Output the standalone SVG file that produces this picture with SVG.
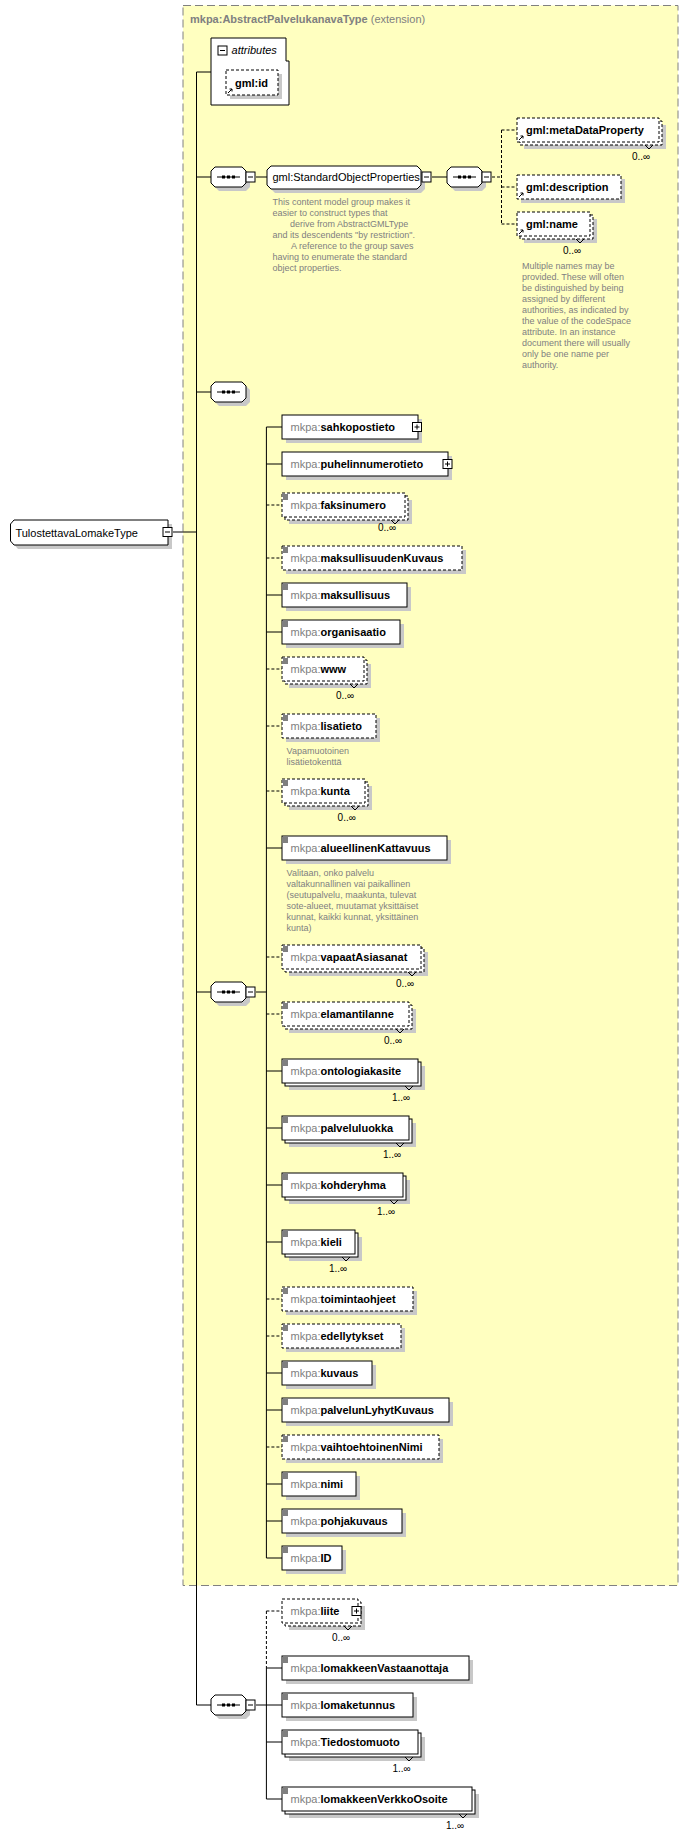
<svg xmlns="http://www.w3.org/2000/svg" width="679" height="1837" viewBox="0 0 679 1837">
<style>
text{font-family:"Liberation Sans",Arial,sans-serif;font-size:11px}
.sh{fill:#c8c8c8}
.box{fill:#fff;stroke:#000;stroke-width:1}
.dbox{fill:#fff;stroke:#000;stroke-width:1;stroke-dasharray:3,2}
.ln{stroke:#000;fill:none}
.dl{stroke:#000;fill:none;stroke-dasharray:3,2}
.ic{stroke:#000;stroke-width:1;fill:none}
.p{fill:#808080}
.n{fill:#000;font-weight:bold}
.ann{fill:#808080;font-size:9px}
.occ{font-size:10px;fill:#000}
.dot{fill:#000}
</style>
<rect x="183" y="5.5" width="495" height="1580" fill="#ffffc0" stroke="#808080" stroke-dasharray="8,4"/>
<text x="190" y="23"><tspan class="p" font-weight="bold">mkpa:AbstractPalvelukanavaType</tspan><tspan class="p"> (extension)</tspan></text>

<g id="connectors">
<path class="ln" d="M173 532H196.5M196.5 72V1705M196.5 72H211M196.5 177H211M196.5 392H211M196.5 992H211M196.5 1705H211"/>
<path class="ln" d="M256 177H267M432 177H447"/>
<path class="dl" d="M492 177H501.5M501.5 130V224M501.5 130H517M501.5 187H517M501.5 224H517"/>
<path class="ln" d="M256 992H266.4M266.4 427V1558"/>
<path class="ln" d="M266.4 427H282M266.4 464H282M266.4 595H282M266.4 632H282M266.4 848H282M266.4 1071H282M266.4 1128H282M266.4 1185H282M266.4 1242H282M266.4 1373H282M266.4 1410H282M266.4 1484H282M266.4 1521H282M266.4 1558H282"/>
<path class="dl" d="M266.4 505H282M266.4 558H282M266.4 669H282M266.4 726H282M266.4 791H282M266.4 957H282M266.4 1014H282M266.4 1299H282M266.4 1336H282M266.4 1447H282"/>
<path class="ln" d="M256 1705H266.4M266.4 1668V1799M266.4 1668H282M266.4 1705H282M266.4 1742H282M266.4 1799H282"/>
<path class="dl" d="M266.4 1611V1668M266.4 1611H282"/>
</g>

<g id="root">
<path class="sh" d="M18 524H172V549H18L14.5 545V528Z"/>
<path class="box" d="M14 520H168V545H14L10.5 541V524Z"/>
<text x="15.4" y="536.5" font-size="12px">TulostettavaLomakeType</text>
<rect class="box" x="163" y="527.5" width="9" height="9"/><path class="ln" d="M165 532H170"/>
</g>

<g id="attributes">
<path class="box" d="M211 38H286V61H289V105H211Z"/>
<rect class="box" x="218" y="46" width="9" height="9"/><path class="ln" d="M220 50.5H225"/>
<text x="231.6" y="54" font-style="italic">attributes</text>
<g id="gml-id">
<rect class="sh" x="230" y="74" width="52" height="25"/>
<rect class="dbox" x="226" y="70" width="52" height="25"/>
<path class="ic" d="M228 93l4-4M229.5 89h2.5v2.5"/>
<text x="235" y="87" class="n">gml:id</text>
</g>
</g>

<g id="seq1">
<path class="sh" d="M219 171h27l4 4v12l-4 4h-27l-4-4v-12z"/>
<path class="box" d="M215 167h27l4 4v12l-4 4h-27l-4-4v-12z"/>
<path class="ln" d="M217 177H240"/><rect class="dot" x="222" y="175.5" width="3" height="3"/><rect class="dot" x="227" y="175.5" width="3" height="3"/><rect class="dot" x="232" y="175.5" width="3" height="3"/>
<rect class="box" x="246" y="172" width="9" height="10"/><path class="ln" d="M248 177H253"/>
</g>

<g id="sop">
<path class="sh" d="M275 170h146l4 4v15l-4 4h-146l-4-4v-15z"/>
<path class="box" d="M271 166h146l4 4v15l-4 4h-146l-4-4v-15z"/>
<text x="272.5" y="181" font-size="10.5px">gml:StandardObjectProperties</text>
<rect class="box" x="422" y="172" width="9" height="10"/><path class="ln" d="M424 177H429"/>
<text class="ann"><tspan x="272.5" y="205">This content model group makes it</tspan><tspan x="272.5" y="216">easier to construct types that</tspan><tspan x="290" y="227">derive from AbstractGMLType</tspan><tspan x="272.5" y="238">and its descendents "by restriction".</tspan><tspan x="291" y="249">A reference to the group saves</tspan><tspan x="272.5" y="260">having to enumerate the standard</tspan><tspan x="272.5" y="271">object properties.</tspan></text>
</g>

<g id="seq2">
<path class="sh" d="M455 171h27l4 4v12l-4 4h-27l-4-4v-12z"/>
<path class="box" d="M451 167h27l4 4v12l-4 4h-27l-4-4v-12z"/>
<path class="ln" d="M453 177H476"/><rect class="dot" x="458" y="175.5" width="3" height="3"/><rect class="dot" x="463" y="175.5" width="3" height="3"/><rect class="dot" x="468" y="175.5" width="3" height="3"/>
<rect class="box" x="482" y="172" width="9" height="10"/><path class="ln" d="M484 177H489"/>
</g>

<g id="gml-metaDataProperty">
<rect class="sh" x="524" y="125" width="142" height="24"/>
<rect class="dbox" x="520" y="121" width="142" height="24"/>
<rect class="dbox" x="517" y="118" width="142" height="24"/>
<path class="ic" d="M519 140l4-4M520.5 136h2.5v2.5M645 145l4 4l4-4"/>
<text x="526" y="134" class="n">gml:metaDataProperty</text>
<text x="632" y="160" class="occ">0..∞</text>
</g>
<g id="gml-description">
<rect class="sh" x="521" y="179" width="104" height="24"/>
<rect class="dbox" x="517" y="175" width="104" height="24"/>
<path class="ic" d="M519 197l4-4M520.5 193h2.5v2.5"/>
<text x="526" y="191" class="n">gml:description</text>
</g>
<g id="gml-name">
<rect class="sh" x="524" y="219" width="73" height="24"/>
<rect class="dbox" x="520" y="215" width="73" height="24"/>
<rect class="dbox" x="517" y="212" width="73" height="24"/>
<path class="ic" d="M519 234l4-4M520.5 230h2.5v2.5M576 239l4 4l4-4"/>
<text x="526" y="228" class="n">gml:name</text>
<text x="563" y="254" class="occ">0..∞</text>
<text class="ann"><tspan x="522" y="269">Multiple names may be</tspan><tspan x="522" y="280">provided.  These will often</tspan><tspan x="522" y="291">be distinguished by being</tspan><tspan x="522" y="302">assigned by different</tspan><tspan x="522" y="313">authorities, as indicated by</tspan><tspan x="522" y="324">the value of the codeSpace</tspan><tspan x="522" y="335">attribute.  In an instance</tspan><tspan x="522" y="346">document there will usually</tspan><tspan x="522" y="357">only be one name per</tspan><tspan x="522" y="368">authority.</tspan></text>
</g>

<g id="seq3">
<path class="sh" d="M219 386h27l4 4v12l-4 4h-27l-4-4v-12z"/>
<path class="box" d="M215 382h27l4 4v12l-4 4h-27l-4-4v-12z"/>
<path class="ln" d="M217 392H240"/><rect class="dot" x="222" y="390.5" width="3" height="3"/><rect class="dot" x="227" y="390.5" width="3" height="3"/><rect class="dot" x="232" y="390.5" width="3" height="3"/>
</g>

<g id="seq-main">
<path class="sh" d="M219 986h27l4 4v12l-4 4h-27l-4-4v-12z"/>
<path class="box" d="M215 982h27l4 4v12l-4 4h-27l-4-4v-12z"/>
<path class="ln" d="M217 992H240"/><rect class="dot" x="222" y="990.5" width="3" height="3"/><rect class="dot" x="227" y="990.5" width="3" height="3"/><rect class="dot" x="232" y="990.5" width="3" height="3"/>
<rect class="box" x="246" y="987" width="9" height="10"/><path class="ln" d="M248 992H253"/>
</g>

<g id="seq4">
<path class="sh" d="M219 1699h27l4 4v12l-4 4h-27l-4-4v-12z"/>
<path class="box" d="M215 1695h27l4 4v12l-4 4h-27l-4-4v-12z"/>
<path class="ln" d="M217 1705H240"/><rect class="dot" x="222" y="1703.5" width="3" height="3"/><rect class="dot" x="227" y="1703.5" width="3" height="3"/><rect class="dot" x="232" y="1703.5" width="3" height="3"/>
<rect class="box" x="246" y="1700" width="9" height="10"/><path class="ln" d="M248 1705H253"/>
</g>

<g id="sahkopostieto">
<rect class="sh" x="286" y="419" width="136" height="24"/><rect class="box" x="282" y="415" width="136" height="24"/>
<text x="290.5" y="431"><tspan class="p">mkpa:</tspan><tspan class="n">sahkopostieto</tspan></text>
<rect class="box" x="412.5" y="422.5" width="9" height="9"/><path class="ln" d="M414.5 427H419.5M417 424.5V429.5"/>
</g>
<g id="puhelinnumerotieto">
<rect class="sh" x="286" y="456" width="166" height="24"/><rect class="box" x="282" y="452" width="166" height="24"/>
<text x="290.5" y="468"><tspan class="p">mkpa:</tspan><tspan class="n">puhelinnumerotieto</tspan></text>
<rect class="box" x="443" y="459.5" width="9" height="9"/><path class="ln" d="M445 464H450M447.5 461.5V466.5"/>
</g>
<g id="faksinumero">
<rect class="sh" x="289" y="500" width="123" height="24"/><rect class="dbox" x="285" y="496" width="123" height="24"/><rect class="dbox" x="282" y="493" width="123" height="24"/>
<path class="ic" d="M283 495h5M283 497h5M283 499h5M391 520l4 4l4-4"/>
<text x="290.5" y="509"><tspan class="p">mkpa:</tspan><tspan class="n">faksinumero</tspan></text>
<text x="378" y="531" class="occ">0..∞</text>
</g>
<g id="maksullisuudenKuvaus">
<rect class="sh" x="286" y="550" width="180" height="24"/><rect class="dbox" x="282" y="546" width="180" height="24"/>
<path class="ic" d="M283 548h5M283 550h5M283 552h5"/>
<text x="290.5" y="562"><tspan class="p">mkpa:</tspan><tspan class="n">maksullisuudenKuvaus</tspan></text>
</g>
<g id="maksullisuus">
<rect class="sh" x="286" y="587" width="125" height="24"/><rect class="box" x="282" y="583" width="125" height="24"/>
<path class="ic" d="M283 585h5M283 587h5M283 589h5"/>
<text x="290.5" y="599"><tspan class="p">mkpa:</tspan><tspan class="n">maksullisuus</tspan></text>
</g>
<g id="organisaatio">
<rect class="sh" x="286" y="624" width="118" height="24"/><rect class="box" x="282" y="620" width="118" height="24"/>
<path class="ic" d="M283 622h5M283 624h5M283 626h5"/>
<text x="290.5" y="636"><tspan class="p">mkpa:</tspan><tspan class="n">organisaatio</tspan></text>
</g>
<g id="www">
<rect class="sh" x="289" y="664" width="82" height="24"/><rect class="dbox" x="285" y="660" width="82" height="24"/><rect class="dbox" x="282" y="657" width="82" height="24"/>
<path class="ic" d="M283 659h5M283 661h5M283 663h5M350 684l4 4l4-4"/>
<text x="290.5" y="673"><tspan class="p">mkpa:</tspan><tspan class="n">www</tspan></text>
<text x="336" y="699" class="occ">0..∞</text>
</g>
<g id="lisatieto">
<rect class="sh" x="286" y="718" width="94" height="24"/><rect class="dbox" x="282" y="714" width="94" height="24"/>
<path class="ic" d="M283 716h5M283 718h5M283 720h5"/>
<text x="290.5" y="730"><tspan class="p">mkpa:</tspan><tspan class="n">lisatieto</tspan></text>
<text class="ann"><tspan x="286.6" y="754">Vapamuotoinen</tspan><tspan x="286.6" y="765">lisätietokenttä</tspan></text>
</g>
<g id="kunta">
<rect class="sh" x="289" y="786" width="83" height="24"/><rect class="dbox" x="285" y="782" width="83" height="24"/><rect class="dbox" x="282" y="779" width="83" height="24"/>
<path class="ic" d="M283 781h5M283 783h5M283 785h5M351 806l4 4l4-4"/>
<text x="290.5" y="795"><tspan class="p">mkpa:</tspan><tspan class="n">kunta</tspan></text>
<text x="337.6" y="821" class="occ">0..∞</text>
</g>
<g id="alueellinenKattavuus">
<rect class="sh" x="286" y="840" width="165" height="24"/><rect class="box" x="282" y="836" width="165" height="24"/>
<path class="ic" d="M283 838h5M283 840h5M283 842h5"/>
<text x="290.5" y="852"><tspan class="p">mkpa:</tspan><tspan class="n">alueellinenKattavuus</tspan></text>
<text class="ann"><tspan x="286.6" y="876">Valitaan, onko palvelu</tspan><tspan x="286.6" y="887">valtakunnallinen vai paikallinen</tspan><tspan x="286.6" y="898">(seutupalvelu, maakunta, tulevat</tspan><tspan x="286.6" y="909">sote-alueet, muutamat yksittäiset</tspan><tspan x="286.6" y="920">kunnat, kaikki kunnat, yksittäinen</tspan><tspan x="286.6" y="931">kunta)</tspan></text>
</g>
<g id="vapaatAsiasanat">
<rect class="sh" x="289" y="952" width="139" height="24"/><rect class="dbox" x="285" y="948" width="139" height="24"/><rect class="dbox" x="282" y="945" width="139" height="24"/>
<path class="ic" d="M283 947h5M283 949h5M283 951h5M408 972l4 4l4-4"/>
<text x="290.5" y="961"><tspan class="p">mkpa:</tspan><tspan class="n">vapaatAsiasanat</tspan></text>
<text x="396" y="987" class="occ">0..∞</text>
</g>
<g id="elamantilanne">
<rect class="sh" x="289" y="1009" width="127" height="24"/><rect class="dbox" x="285" y="1005" width="127" height="24"/><rect class="dbox" x="282" y="1002" width="127" height="24"/>
<path class="ic" d="M283 1004h5M283 1006h5M283 1008h5M396 1029l4 4l4-4"/>
<text x="290.5" y="1018"><tspan class="p">mkpa:</tspan><tspan class="n">elamantilanne</tspan></text>
<text x="384" y="1044" class="occ">0..∞</text>
</g>
<g id="ontologiakasite">
<rect class="sh" x="289" y="1066" width="136" height="24"/><rect class="box" x="285" y="1062" width="136" height="24"/><rect class="box" x="282" y="1059" width="136" height="24"/>
<path class="ic" d="M283 1061h5M283 1063h5M283 1065h5M405 1086l4 4l4-4"/>
<text x="290.5" y="1075"><tspan class="p">mkpa:</tspan><tspan class="n">ontologiakasite</tspan></text>
<text x="392" y="1101" class="occ">1..∞</text>
</g>
<g id="palveluluokka">
<rect class="sh" x="289" y="1123" width="127" height="24"/><rect class="box" x="285" y="1119" width="127" height="24"/><rect class="box" x="282" y="1116" width="127" height="24"/>
<path class="ic" d="M283 1118h5M283 1120h5M283 1122h5M396 1143l4 4l4-4"/>
<text x="290.5" y="1132"><tspan class="p">mkpa:</tspan><tspan class="n">palveluluokka</tspan></text>
<text x="383" y="1158" class="occ">1..∞</text>
</g>
<g id="kohderyhma">
<rect class="sh" x="289" y="1180" width="121" height="24"/><rect class="box" x="285" y="1176" width="121" height="24"/><rect class="box" x="282" y="1173" width="121" height="24"/>
<path class="ic" d="M283 1175h5M283 1177h5M283 1179h5M390 1200l4 4l4-4"/>
<text x="290.5" y="1189"><tspan class="p">mkpa:</tspan><tspan class="n">kohderyhma</tspan></text>
<text x="377" y="1215" class="occ">1..∞</text>
</g>
<g id="kieli">
<rect class="sh" x="289" y="1237" width="73" height="24"/><rect class="box" x="285" y="1233" width="73" height="24"/><rect class="box" x="282" y="1230" width="73" height="24"/>
<path class="ic" d="M283 1232h5M283 1234h5M283 1236h5M342 1257l4 4l4-4"/>
<text x="290.5" y="1246"><tspan class="p">mkpa:</tspan><tspan class="n">kieli</tspan></text>
<text x="329" y="1272" class="occ">1..∞</text>
</g>
<g id="toimintaohjeet">
<rect class="sh" x="286" y="1291" width="131" height="24"/><rect class="dbox" x="282" y="1287" width="131" height="24"/>
<path class="ic" d="M283 1289h5M283 1291h5M283 1293h5"/>
<text x="290.5" y="1303"><tspan class="p">mkpa:</tspan><tspan class="n">toimintaohjeet</tspan></text>
</g>
<g id="edellytykset">
<rect class="sh" x="286" y="1328" width="119" height="24"/><rect class="dbox" x="282" y="1324" width="119" height="24"/>
<path class="ic" d="M283 1326h5M283 1328h5M283 1330h5"/>
<text x="290.5" y="1340"><tspan class="p">mkpa:</tspan><tspan class="n">edellytykset</tspan></text>
</g>
<g id="kuvaus">
<rect class="sh" x="286" y="1365" width="90" height="24"/><rect class="box" x="282" y="1361" width="90" height="24"/>
<path class="ic" d="M283 1363h5M283 1365h5M283 1367h5"/>
<text x="290.5" y="1377"><tspan class="p">mkpa:</tspan><tspan class="n">kuvaus</tspan></text>
</g>
<g id="palvelunLyhytKuvaus">
<rect class="sh" x="286" y="1402" width="167" height="24"/><rect class="box" x="282" y="1398" width="167" height="24"/>
<path class="ic" d="M283 1400h5M283 1402h5M283 1404h5"/>
<text x="290.5" y="1414"><tspan class="p">mkpa:</tspan><tspan class="n">palvelunLyhytKuvaus</tspan></text>
</g>
<g id="vaihtoehtoinenNimi">
<rect class="sh" x="286" y="1439" width="157" height="24"/><rect class="dbox" x="282" y="1435" width="157" height="24"/>
<path class="ic" d="M283 1437h5M283 1439h5M283 1441h5"/>
<text x="290.5" y="1451"><tspan class="p">mkpa:</tspan><tspan class="n">vaihtoehtoinenNimi</tspan></text>
</g>
<g id="nimi">
<rect class="sh" x="286" y="1476" width="74" height="24"/><rect class="box" x="282" y="1472" width="74" height="24"/>
<path class="ic" d="M283 1474h5M283 1476h5M283 1478h5"/>
<text x="290.5" y="1488"><tspan class="p">mkpa:</tspan><tspan class="n">nimi</tspan></text>
</g>
<g id="pohjakuvaus">
<rect class="sh" x="286" y="1513" width="120" height="24"/><rect class="box" x="282" y="1509" width="120" height="24"/>
<path class="ic" d="M283 1511h5M283 1513h5M283 1515h5"/>
<text x="290.5" y="1525"><tspan class="p">mkpa:</tspan><tspan class="n">pohjakuvaus</tspan></text>
</g>
<g id="ID">
<rect class="sh" x="286" y="1550" width="60" height="24"/><rect class="box" x="282" y="1546" width="60" height="24"/>
<path class="ic" d="M283 1548h5M283 1550h5M283 1552h5"/>
<text x="290.5" y="1562"><tspan class="p">mkpa:</tspan><tspan class="n">ID</tspan></text>
</g>
<g id="liite">
<rect class="sh" x="289" y="1606" width="76" height="24"/><rect class="dbox" x="285" y="1602" width="76" height="24"/><rect class="dbox" x="282" y="1599" width="76" height="24"/>
<path class="ic" d="M344 1626l4 4l4-4"/>
<text x="290.5" y="1615"><tspan class="p">mkpa:</tspan><tspan class="n">liite</tspan></text>
<rect class="box" x="352" y="1606.5" width="9" height="9"/><path class="ln" d="M354 1611H359M356.5 1608.5V1613.5"/>
<text x="332" y="1641" class="occ">0..∞</text>
</g>
<g id="lomakkeenVastaanottaja">
<rect class="sh" x="286" y="1660" width="187" height="24"/><rect class="box" x="282" y="1656" width="187" height="24"/>
<path class="ic" d="M283 1658h5M283 1660h5M283 1662h5"/>
<text x="290.5" y="1672"><tspan class="p">mkpa:</tspan><tspan class="n">lomakkeenVastaanottaja</tspan></text>
</g>
<g id="lomaketunnus">
<rect class="sh" x="286" y="1697" width="131" height="24"/><rect class="box" x="282" y="1693" width="131" height="24"/>
<path class="ic" d="M283 1695h5M283 1697h5M283 1699h5"/>
<text x="290.5" y="1709"><tspan class="p">mkpa:</tspan><tspan class="n">lomaketunnus</tspan></text>
</g>
<g id="Tiedostomuoto">
<rect class="sh" x="289" y="1737" width="136" height="24"/><rect class="box" x="285" y="1733" width="136" height="24"/><rect class="box" x="282" y="1730" width="136" height="24"/>
<path class="ic" d="M283 1732h5M283 1734h5M283 1736h5M405 1757l4 4l4-4"/>
<text x="290.5" y="1746"><tspan class="p">mkpa:</tspan><tspan class="n">Tiedostomuoto</tspan></text>
<text x="392.5" y="1772" class="occ">1..∞</text>
</g>
<g id="lomakkeenVerkkoOsoite">
<rect class="sh" x="289" y="1794" width="190" height="24"/><rect class="box" x="285" y="1790" width="190" height="24"/><rect class="box" x="282" y="1787" width="190" height="24"/>
<path class="ic" d="M283 1789h5M283 1791h5M283 1793h5M459 1814l4 4l4-4"/>
<text x="290.5" y="1803"><tspan class="p">mkpa:</tspan><tspan class="n">lomakkeenVerkkoOsoite</tspan></text>
<text x="446" y="1829" class="occ">1..∞</text>
</g>
</svg>
